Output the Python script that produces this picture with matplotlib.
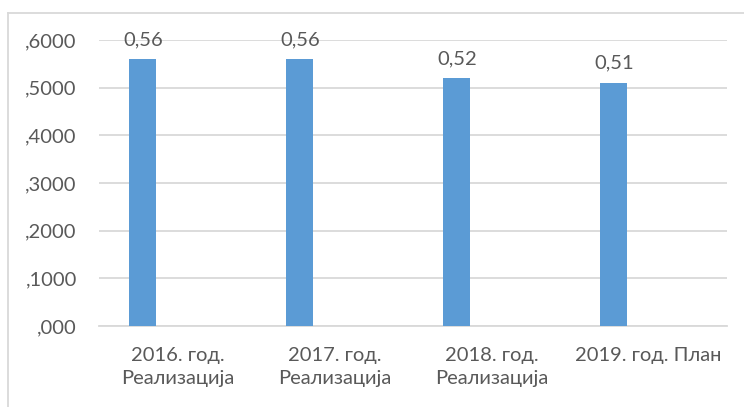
import matplotlib
matplotlib.use('Agg')
import matplotlib.pyplot as plt
from matplotlib.lines import Line2D

plt.rcParams['font.family'] = ['Lato', 'DejaVu Sans']

categories = ['2016. год.\nРеализација', '2017. год.\nРеализација',
              '2018. год.\nРеализација', '2019. год. План']
values = [0.56, 0.56, 0.52, 0.51]
value_labels = ['0,56', '0,56', '0,52', '0,51']
yticks = [0.0, 0.1, 0.2, 0.3, 0.4, 0.5, 0.6]
ytick_labels = [',000', ',1000', ',2000', ',3000', ',4000', ',5000', ',6000']

BAR_COLOR = '#5B9BD5'
GRID_COLOR = '#D9D9D9'
TEXT_COLOR = '#595959'
FS = 14.5

W, H = 744, 407
fig = plt.figure(figsize=(W / 100, H / 100), dpi=100)
ax = fig.add_axes([99 / W, (H - 326) / H, (727 - 99) / W, (326 - 40) / H])

x = list(range(len(categories)))
xb = [i - 0.22 for i in x]
bars = ax.bar(xb, values, width=0.172, color=BAR_COLOR, zorder=3)

for xi, v, lab in zip(xb, values, value_labels):
    ax.annotate(lab, (xi, v), xytext=(0, 8), textcoords='offset points',
                ha='center', va='bottom', fontsize=FS, color=TEXT_COLOR)

ax.set_xlim(-0.5, 3.5)
ax.set_ylim(0, 0.6)
ax.set_yticks(yticks)
ax.set_yticklabels(ytick_labels)
ax.set_xticks(x)
ax.set_xticklabels(categories, linespacing=1.45)
ax.tick_params(axis='both', length=0, labelsize=FS, labelcolor=TEXT_COLOR)
ax.tick_params(axis='y', pad=16)
ax.tick_params(axis='x', pad=15)
ax.grid(axis='y', color=GRID_COLOR, linewidth=1.3, zorder=0)
for s in ['top', 'right', 'left']:
    ax.spines[s].set_visible(False)
ax.spines['bottom'].set_color(GRID_COLOR)
ax.spines['bottom'].set_linewidth(1.3)

# chart frame (only top and left visible)
fig.add_artist(Line2D([7.5 / W, 1], [1 - 12.5 / H, 1 - 12.5 / H],
                      color=GRID_COLOR, linewidth=1.3))
fig.add_artist(Line2D([7.5 / W, 7.5 / W], [0, 1 - 12.5 / H],
                      color=GRID_COLOR, linewidth=1.3))

fig.savefig('out.png', dpi=100)
